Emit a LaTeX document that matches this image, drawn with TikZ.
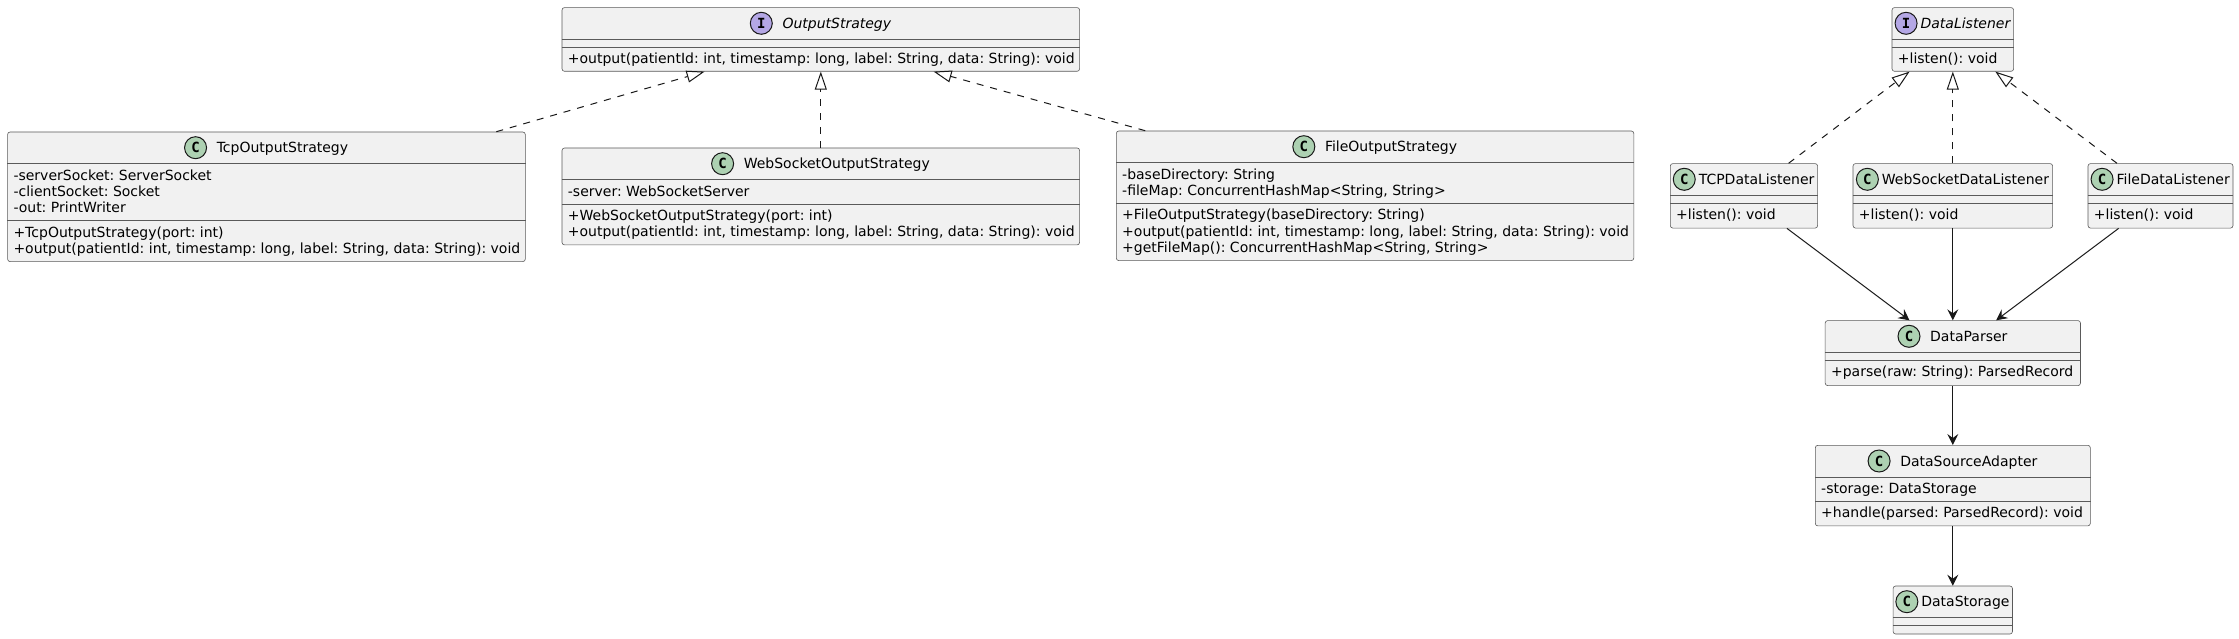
\documentclass[tikz,border=0pt]{standalone}
\usepackage{fontspec}
\setmainfont{DejaVu Sans}
\newfontfamily\iconfont{DejaVu Sans Mono}
\usetikzlibrary{arrows.meta,calc}
\definecolor{boxfill}{HTML}{F1F1F1}
\definecolor{lineclr}{HTML}{181818}
\definecolor{boxline}{HTML}{5A5A5A}
\definecolor{cfill}{HTML}{ADD1B2}
\definecolor{ifill}{HTML}{B4A7E5}
\frenchspacing
\tikzset{
  classbox/.style={draw=boxline, line width=0.6pt, fill=boxfill, rounded corners=2.5pt, inner sep=0pt, anchor=north west},
  sepline/.style={draw=boxline, line width=0.6pt},
  member/.style={anchor=base west, inner sep=0pt, font=\fontsize{14}{16}\selectfont},
  cname/.style={anchor=base, inner sep=0pt, font=\fontsize{14}{16}\selectfont},
  icon/.style={circle, draw=lineclr, line width=1pt, minimum size=22pt, inner sep=0pt, font=\iconfont\bfseries\fontsize{14}{14}\selectfont},
  realize/.style={draw=lineclr, line width=1pt, dash pattern=on 7pt off 7pt, -{Triangle[open, length=18pt, width=12pt]}},
  assoc/.style={draw=lineclr, line width=1pt, -{Stealth[length=11pt, width=11pt, inset=4pt]}},
}
% header: id, letter, fill, name, gap
\newcommand\umlhdr[5]{%
  \node[cname] (#1-n) at ($(#1.north)+({(22+#5)/2},21)$) {#4};
  \node[icon, fill=#3] (#1-i) at ($(#1-n.base west)+({-#5-11},-5)$) {#2};
}
% separator: id, offset
\newcommand\umlsep[2]{\draw[sepline] ($(#1.north west)+(0,#2)$) -- ($(#1.north east)+(0,#2)$);}
% member: id, baseline offset, text
\newcommand\umlmem[3]{\node[member] at ($(#1.north west)+(6,#2)$) {#3};}
\begin{document}
\begin{tikzpicture}[x=1pt,y=-1pt]
\useasboundingbox (0,0) rectangle (2239,639);

% ---------- OutputStrategy ----------
\node[classbox, minimum width=517.6pt, minimum height=63.7pt] (ostrat) at (561.7,7.3) {};
\umlhdr{ostrat}{I}{ifill}{\itshape OutputStrategy}{10}
\umlsep{ostrat}{32}\umlsep{ostrat}{40}
\umlmem{ostrat}{56.5}{+output(patientId: int, timestamp: long, label: String, data: String): void}

% ---------- TcpOutputStrategy ----------
\node[classbox, minimum width=517.7pt, minimum height=129.6pt] (tcpout) at (7.3,131.7) {};
\umlhdr{tcpout}{C}{cfill}{TcpOutputStrategy}{10}
\umlsep{tcpout}{32}\umlsep{tcpout}{89}
\umlmem{tcpout}{48.5}{-serverSocket: ServerSocket}
\umlmem{tcpout}{64.8}{-clientSocket: Socket}
\umlmem{tcpout}{81.1}{-out: PrintWriter}
\umlmem{tcpout}{105.5}{+TcpOutputStrategy(port: int)}
\umlmem{tcpout}{121.8}{+output(patientId: int, timestamp: long, label: String, data: String): void}

% ---------- WebSocketOutputStrategy ----------
\node[classbox, minimum width=517.6pt, minimum height=96.9pt] (wsout) at (561.7,147.7) {};
\umlhdr{wsout}{C}{cfill}{WebSocketOutputStrategy}{10}
\umlsep{wsout}{32}\umlsep{wsout}{56.3}
\umlmem{wsout}{48.5}{-server: WebSocketServer}
\umlmem{wsout}{72.8}{+WebSocketOutputStrategy(port: int)}
\umlmem{wsout}{89.1}{+output(patientId: int, timestamp: long, label: String, data: String): void}

% ---------- FileOutputStrategy ----------
\node[classbox, minimum width=517.5pt, minimum height=129.6pt] (fileout) at (1116,130.7) {};
\umlhdr{fileout}{C}{cfill}{FileOutputStrategy}{10}
\umlsep{fileout}{32}\umlsep{fileout}{72.6}
\umlmem{fileout}{48.5}{-baseDirectory: String}
\umlmem{fileout}{64.8}{-fileMap: ConcurrentHashMap<String, String>}
\umlmem{fileout}{89.1}{+FileOutputStrategy(baseDirectory: String)}
\umlmem{fileout}{105.4}{+output(patientId: int, timestamp: long, label: String, data: String): void}
\umlmem{fileout}{121.7}{+getFileMap(): ConcurrentHashMap<String, String>}

% ---------- DataListener ----------
\node[classbox, minimum width=121.6pt, minimum height=63.7pt] (dl) at (1891.7,7.3) {};
\umlhdr{dl}{I}{ifill}{\itshape DataListener}{3.3}
\umlsep{dl}{32}\umlsep{dl}{40}
\umlmem{dl}{56.5}{+listen(): void}

% ---------- TCPDataListener ----------
\node[classbox, minimum width=147.3pt, minimum height=64.5pt] (tcpdl) at (1670,163.3) {};
\umlhdr{tcpdl}{C}{cfill}{TCPDataListener}{3.3}
\umlsep{tcpdl}{32}\umlsep{tcpdl}{40}
\umlmem{tcpdl}{56.5}{+listen(): void}

% ---------- WebSocketDataListener ----------
\node[classbox, minimum width=199.6pt, minimum height=64.5pt] (wsdl) at (1852.7,163.3) {};
\umlhdr{wsdl}{C}{cfill}{WebSocketDataListener}{3.3}
\umlsep{wsdl}{32}\umlsep{wsdl}{40}
\umlmem{wsdl}{56.5}{+listen(): void}

% ---------- FileDataListener ----------
\node[classbox, minimum width=145pt, minimum height=64.5pt] (filedl) at (2087.7,163.3) {};
\umlhdr{filedl}{C}{cfill}{FileDataListener}{3.3}
\umlsep{filedl}{32}\umlsep{filedl}{40}
\umlmem{filedl}{56.5}{+listen(): void}

% ---------- DataParser ----------
\node[classbox, minimum width=255.3pt, minimum height=65pt] (parser) at (1824.85,320.3) {};
\umlhdr{parser}{C}{cfill}{DataParser}{10}
\umlsep{parser}{32}\umlsep{parser}{40}
\umlmem{parser}{56.5}{+parse(raw: String): ParsedRecord}

% ---------- DataSourceAdapter ----------
\node[classbox, minimum width=275pt, minimum height=80.6pt] (dsa) at (1815,445) {};
\umlhdr{dsa}{C}{cfill}{DataSourceAdapter}{10}
\umlsep{dsa}{32}\umlsep{dsa}{56.3}
\umlmem{dsa}{48.5}{-storage: DataStorage}
\umlmem{dsa}{72.8}{+handle(parsed: ParsedRecord): void}

% ---------- DataStorage ----------
\node[classbox, minimum width=119.3pt, minimum height=48pt] (storage) at (1892.85,585.7) {};
\umlhdr{storage}{C}{cfill}{DataStorage}{3.3}
\umlsep{storage}{32}\umlsep{storage}{40}

% ---------- realizations ----------
\draw[realize] ($(tcpout.north)+(229.9,0)$) -- ($(ostrat.south)+(-116.2,0)$);
\draw[realize] (wsout.north) -- (ostrat.south);
\draw[realize] ($(fileout.north)+(-229.8,0)$) -- ($(ostrat.south)+(112.8,0)$);
\draw[realize] ($(tcpdl.north)+(44.6,0)$) -- ($(dl.south)+(-43.2,0)$);
\draw[realize] (wsdl.north) -- (dl.south);
\draw[realize] ($(filedl.north)+(-43.5,0)$) -- ($(dl.south)+(42.5,0)$);

% ---------- associations ----------
\draw[assoc] ($(tcpdl.south)+(43,0)$) -- ($(parser.north)+(-43.3,0)$);
\draw[assoc] (wsdl.south) -- (parser.north);
\draw[assoc] ($(filedl.south)+(-41.9,0)$) -- ($(parser.north)+(43.3,0)$);
\draw[assoc] (parser.south) -- (dsa.north);
\draw[assoc] (dsa.south) -- (storage.north);
\end{tikzpicture}
\end{document}
